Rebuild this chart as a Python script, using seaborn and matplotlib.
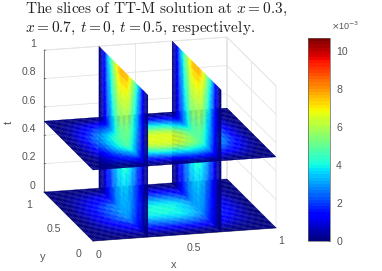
import numpy as np
import matplotlib
matplotlib.use("Agg")
import matplotlib.pyplot as plt
from matplotlib.colors import Normalize
from matplotlib.cm import ScalarMappable
from mpl_toolkits.mplot3d.art3d import Poly3DCollection
import seaborn as sns

# Values (solution in units of 1e-3)
space_step = 0.025
space_profile = [0, .02, .06, .11, .18, .25, .32, .395, .47, .54, .61, .67, .73, .80,
                 .87, .92, .96, .98, .99, 1.0, 1.0,
                 1.0, .99, .98, .96, .92, .87, .80, .73, .67, .61, .54, .47, .395,
                 .32, .25, .18, .11, .06, .02, 0]
time_step = 0.05
peak_in_time = [4.08, 4.28, 4.5, 4.72, 4.95, 5.2, 5.45, 5.72, 6.0, 6.3, 6.65,
                6.9, 7.25, 7.61, 7.98, 8.38, 8.8, 9.23, 9.69, 10.17, 10.68]
x_slices = [0.3, 0.7]
t_slices = [0.0, 0.5]
x_ticks = [0, 0.5, 1]
y_ticks = [0, 0.5, 1]
t_ticks = [0, 0.2, 0.4, 0.6, 0.8, 1]
x_text = ["0", "0.5", "1"]
y_text = ["0", "0.5", "1"]
t_text = ["0", "0.2", "0.4", "0.6", "0.8", "1"]
cbar_ticks = [0, 2, 4, 6, 8, 10]
cbar_max = 10.68
title_lines = ["The slices of TT-M solution at $x=0.3$,",
               "$x=0.7$, $t=0$, $t=0.5$, respectively."]

sns.set_theme(style="white")
plt.rcParams["font.family"] = ["Liberation Sans", "DejaVu Sans"]
plt.rcParams["mathtext.fontset"] = "cm"
plt.rcParams["axes.unicode_minus"] = False

W, H = 382, 271
fig = plt.figure(figsize=(W / 100, H / 100), dpi=100)
side = 296.7
ax = fig.add_axes([7.65 / W, -20.4 / H, side / W, side / H],
                  projection="3d", proj_type="ortho")
ax.view_init(elev=15.5, azim=-105)
ax.set_box_aspect((189.4, 189.3, 147.2))
ax.patch.set_alpha(0)

jet = matplotlib.colormaps["jet"].resampled(64)
norm = Normalize(0, cbar_max)

p = np.array(space_profile)
a = np.array(peak_in_time)
s = np.arange(len(p)) * space_step
tn = np.arange(len(a)) * time_step

verts, vals = [], []
for t0 in t_slices:
    amp = a[np.argmin(np.abs(tn - t0))]
    for i in range(len(s) - 1):
        for j in range(len(s) - 1):
            verts.append([(s[i], s[j], t0), (s[i + 1], s[j], t0),
                          (s[i + 1], s[j + 1], t0), (s[i], s[j + 1], t0)])
            vals.append(amp * (p[i] + p[i + 1]) * (p[j] + p[j + 1]) / 4)
for x0 in x_slices:
    fx = p[np.argmin(np.abs(s - x0))]
    for j in range(len(s) - 1):
        for k in range(len(tn) - 1):
            verts.append([(x0, s[j], tn[k]), (x0, s[j + 1], tn[k]),
                          (x0, s[j + 1], tn[k + 1]), (x0, s[j], tn[k + 1])])
            vals.append(fx * (p[j] + p[j + 1]) / 2 * (a[k] + a[k + 1]) / 2)

cols = jet(norm(np.array(vals)))
poly = Poly3DCollection(verts, facecolors=cols, edgecolors=cols, linewidths=0.2,
                        zsort="average")
ax.add_collection3d(poly)
ax.set_xlim(0, 1)
ax.set_ylim(0, 1)
ax.set_zlim(0, 1)
ax.set_xticks(x_ticks, x_text)
ax.set_yticks(y_ticks, y_text)
ax.set_zticks(t_ticks, t_text)

label_c = "#555555"
for axis in (ax.xaxis, ax.yaxis, ax.zaxis):
    axis.set_pane_color((1, 1, 1, 1))
    axis.pane.set_edgecolor("#e2e2e2")
    axis.pane.set_linewidth(0.6)
    axis.line.set_color("#808080")
    axis.line.set_linewidth(0.7)
    axis._axinfo["grid"].update(color="#e4e4e4", linewidth=0.6)
    axis._axinfo["tick"].update(inward_factor=0.0, outward_factor=0.12)
    axis._axinfo["tick"]["linewidth"] = {True: 0.5, False: 0.5}
    axis.set_tick_params(labelsize=7.6, labelcolor=label_c, colors=label_c, pad=0)
for lab in ax.get_xticklabels():
    lab.set_ha("left")
for lab in ax.get_yticklabels():
    lab.set_va("center")
for lab in ax.get_zticklabels():
    lab.set_ha("right")
    lab.set_va("bottom")
ax.tick_params(axis="x", pad=-3)
ax.tick_params(axis="y", pad=1)
ax.tick_params(axis="z", pad=-4)
ax.grid(True)

fig.text(174 / W, (H - 265) / H, "x", fontsize=8, color=label_c, ha="center", va="center")
fig.text(43 / W, (H - 257) / H, "y", fontsize=8, color=label_c, ha="center", va="center")
fig.text(9 / W, (H - 122) / H, "t", fontsize=8, color=label_c, ha="center", va="center", rotation=90)

cax = fig.add_axes([308 / W, (H - 241) / H, 22 / W, 203 / H])
cb = fig.colorbar(ScalarMappable(norm=norm, cmap=jet), cax=cax, ticks=cbar_ticks)
cb.ax.tick_params(labelsize=7.6, labelcolor=label_c, length=1.8, width=0.5,
                  color="#555555", direction="in", pad=4.5)
cb.outline.set_linewidth(0.5)
cb.outline.set_edgecolor("#666666")
cax.text(331 / W, (H - 30) / H, r"$\times$10$^{-3}$", transform=fig.transFigure,
         fontsize=6.5, color=label_c, ha="left", va="baseline", math_fontfamily="dejavusans")

for line, ypx in zip(title_lines, (13, 32)):
    fig.text(25 / W, (H - ypx) / H, line, family="cmr10", fontsize=11.05,
             color="#222222", ha="left", va="baseline")

fig.savefig("out.png", dpi=100)
